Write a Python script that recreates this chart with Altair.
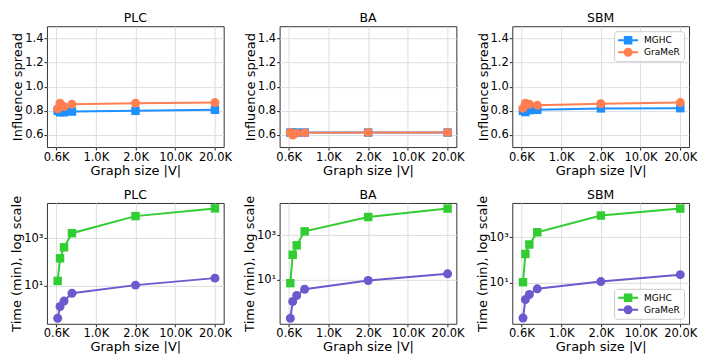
import altair as alt
import pandas as pd

datasets = ["PLC", "BA", "SBM"]
methods = ["MGHC", "GraMeR"]
x_pos = [0.2, 0.5, 1.0, 2.0, 10.0, 20.0]
tick_values = [0, 5, 10, 15, 20]
tick_labels = ["0.6K", "1.0K", "2.0K", "10.0K", "20.0K"]

spread_mghc = {
    "PLC": [0.800, 0.788, 0.788, 0.794, 0.800, 0.808],
    "BA": [0.620, 0.618, 0.620, 0.620, 0.620, 0.620],
    "SBM": [0.800, 0.790, 0.805, 0.808, 0.820, 0.822],
}
spread_gramer = {
    "PLC": [0.817, 0.863, 0.835, 0.855, 0.863, 0.868],
    "BA": [0.620, 0.600, 0.615, 0.618, 0.620, 0.620],
    "SBM": [0.822, 0.863, 0.855, 0.845, 0.858, 0.868],
}
time_mghc = {
    "PLC": [16, 142, 410, 1600, 8300, 17500],
    "BA": [7.1, 134, 355, 1500, 6600, 15800],
    "SBM": [10.7, 186, 480, 1650, 8900, 18000],
}
time_gramer = {
    "PLC": [0.44, 1.36, 2.3, 4.9, 10.7, 21],
    "BA": [0.19, 1.07, 2.0, 3.8, 9.4, 18.6],
    "SBM": [0.29, 1.86, 3.1, 5.5, 11.4, 23],
}
time_domains = {
    "PLC": [0.257, 29500],
    "BA": [0.107, 28200],
    "SBM": [0.162, 31600],
}

top_colors = ["#1E90FF", "#FF7F50"]
bottom_colors = ["#32CD32", "#6A5ACD"]

FONT = "DejaVu Sans"
W, H = 177, 121

label_expr = "[" + ",".join("'%s'" % t for t in tick_labels) + "][indexof([" + \
    ",".join(str(v) for v in tick_values) + "], datum.value)]"

# legend symbol paths: line + marker
line_part = "M-1,-0.2H3V0.2H-1Z"
sq_path = line_part + "M0.15,-0.85H1.85V0.85H0.15Z"
ci_path = line_part + "M0.1,0A0.9,0.9 0 1,1 1.9,0A0.9,0.9 0 1,1 0.1,0Z"


def panel(ds, row):
    if row == 0:
        a, b = spread_mghc[ds], spread_gramer[ds]
        colors = top_colors
        yscale = alt.Scale(domain=[0.5, 1.5], nice=False, zero=False)
        yaxis = alt.Axis(title="Influence spread", values=[0.6, 0.8, 1.0, 1.2, 1.4], format=".1f")
        legend_orient = "top-right"
        title_offset = 2
    else:
        a, b = time_mghc[ds], time_gramer[ds]
        colors = bottom_colors
        yscale = alt.Scale(type="log", domain=time_domains[ds], nice=False)
        yaxis = alt.Axis(title="Time (min), log scale", values=[10, 1000],
                         labelExpr="datum.value == 10 ? '10¹' : datum.value == 1000 ? '10³' : ''")
        legend_orient = "bottom-right"
        title_offset = -6
    rows = []
    for m, vals in zip(methods, [a, b]):
        for x, y in zip(x_pos, vals):
            rows.append({"x": x, "y": y, "method": m})
    df = pd.DataFrame(rows)
    xscale = alt.Scale(domain=[-1.15, 21.1], nice=False, zero=False)
    xaxis = alt.Axis(title="Graph size |V|", values=tick_values, labelExpr=label_expr, titlePadding=1.5)
    base = alt.Chart(df).encode(
        x=alt.X("x:Q", scale=xscale, axis=xaxis),
        y=alt.Y("y:Q", scale=yscale, axis=yaxis),
    )
    cscale = alt.Scale(domain=methods, range=colors)
    col = alt.Color("method:N", scale=cscale, legend=None)
    layers = []
    if ds == "SBM":
        leg = alt.Legend(title=None, orient=legend_orient, offset=5, padding=4,
                         strokeColor="#cccccc", fillColor="rgba(255,255,255,0.85)",
                         cornerRadius=3, labelFontSize=9, labelFont=FONT, symbolSize=100,
                         symbolStrokeWidth=0, labelOffset=16, rowPadding=2)
        lay = base.transform_filter("false").mark_point(filled=True, opacity=1).encode(
            color=alt.Color("method:N", scale=cscale, legend=leg),
            shape=alt.Shape("method:N", scale=alt.Scale(domain=methods, range=[sq_path, ci_path]), legend=leg),
        )
        layers.append(lay)
    for m, shape, size in zip(methods, ["square", "circle"], [72, 81]):
        sub = base.transform_filter(alt.datum.method == m)
        layers.append(sub.mark_line(strokeWidth=2).encode(color=col))
        layers.append(sub.mark_point(shape=shape, filled=True, size=size, opacity=1).encode(color=col))
    return alt.layer(*layers).properties(
        width=W, height=H, title=alt.TitleParams(ds, offset=title_offset)
    )


panels = [panel(ds, r) for r in range(2) for ds in datasets]

chart = alt.concat(*panels, columns=3, spacing={"column": 56, "row": 56}, bounds="flush").resolve_scale(
    x="independent", y="independent", color="independent", shape="independent"
).properties(
    padding={"left": 2, "top": 3, "right": 0, "bottom": 0}
).configure(font=FONT).configure_view(
    stroke="#333333", strokeWidth=1
).configure_axis(
    grid=True, gridColor="#dddddd", gridWidth=1, domain=False,
    tickColor="#222222", tickSize=3, labelFontSize=11.5, titleFontSize=13,
    labelColor="#000000", titleColor="#000000", titleFontWeight="normal",
    labelPadding=1, titlePadding=0, labelFont=FONT, titleFont=FONT,
    labelFlush=False, labelOverlap=False
).configure_title(
    fontSize=12.5, fontWeight="normal", font=FONT, color="#000000", frame="group"
)

chart.save("out.html", embed_options={"renderer": "svg", "actions": False})
